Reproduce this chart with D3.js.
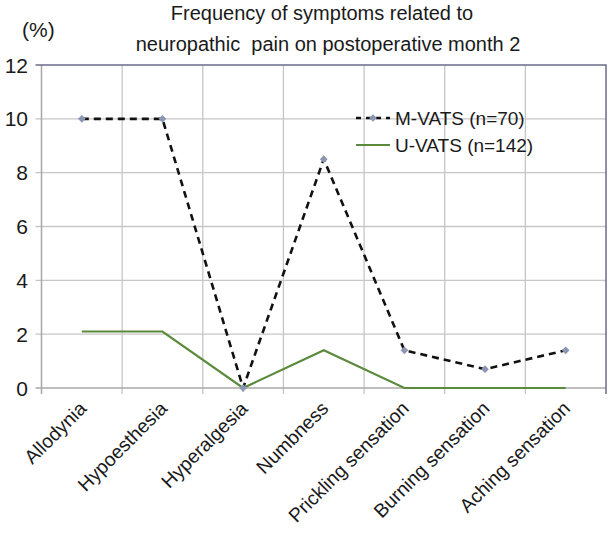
<!DOCTYPE html>
<html><head><meta charset="utf-8">
<script src="https://cdn.jsdelivr.net/npm/d3@7"></script>
<style>body{margin:0;background:#fff}svg{display:block}text{font-family:"Liberation Sans",Arial,sans-serif;fill:#1a1a1a}</style>
</head><body>
<svg id="c" width="608" height="533"></svg>
<script>
const categories = ["Allodynia","Hypoesthesia","Hyperalgesia","Numbness","Prickling sensation","Burning sensation","Aching sensation"];
const mvats = [10, 10, 0, 8.5, 1.4, 0.7, 1.4];
const uvats = [2.1, 2.1, 0, 1.4, 0, 0, 0];
const yTicks = [0, 2, 4, 6, 8, 10, 12];
const seriesNames = ["M-VATS (n=70)", "U-VATS (n=142)"];
const titleLines = ["Frequency of symptoms related to", "neuropathic\u00a0 pain on postoperative month 2"];

const svg = d3.select("#c");
const L = 41.5, R = 606, T = 65, B = 388;
const x = d3.scaleBand().domain(categories).range([L, R]);
const y = d3.scaleLinear().domain([0, 12]).range([B, T]);
const cx = d => x(d) + x.bandwidth() / 2;

// horizontal gridlines with left tick stubs
svg.append("g").selectAll("line").data(yTicks.filter(v => v > 0 && v < 12)).join("line")
  .attr("x1", L - 6).attr("x2", R).attr("y1", d => y(d)).attr("y2", d => y(d))
  .attr("stroke", "#c6c6c6").attr("stroke-width", 1.3);
// vertical gridlines with bottom tick stubs
const bounds = categories.map(c => x(c)).concat([R]);
svg.append("g").selectAll("line").data(bounds.slice(1, -1)).join("line")
  .attr("x1", d => d).attr("x2", d => d).attr("y1", T).attr("y2", B + 6)
  .attr("stroke", "#c6c6c6").attr("stroke-width", 1.3);
// left axis & bottom axis
svg.append("line").attr("x1", L).attr("x2", L).attr("y1", T).attr("y2", B + 6).attr("stroke", "#a8a8a8").attr("stroke-width", 1.5);
svg.append("line").attr("x1", L - 6).attr("x2", R).attr("y1", B).attr("y2", B).attr("stroke", "#a8a8a8").attr("stroke-width", 1.5);
// top & right border
svg.append("path").attr("d", `M${L - 6},${T}H${R}V${B + 6}`).attr("fill", "none").attr("stroke", "#6b6b8c").attr("stroke-width", 1.5);

// y tick labels
svg.append("g").selectAll("text").data(yTicks).join("text")
  .attr("x", 28).attr("y", d => y(d)).attr("dy", "0.36em").attr("text-anchor", "end")
  .attr("font-size", 21).text(d => d);

// x labels
svg.append("g").selectAll("text").data(categories).join("text")
  .attr("transform", d => `translate(${cx(d) + 1},${B + 17}) rotate(-45)`)
  .attr("text-anchor", "end").attr("dy", "0.35em").attr("font-size", 19.3).text(d => d);

// lines
const line = d3.line().x((d, i) => cx(categories[i])).y(d => y(d));
svg.append("path").datum(uvats).attr("d", line).attr("fill", "none").attr("stroke", "#5b8a3c").attr("stroke-width", 2.2);
svg.append("path").datum(mvats).attr("d", line).attr("fill", "none").attr("stroke", "#111").attr("stroke-width", 2.6).attr("stroke-dasharray", "7,5");
const diamond = d3.symbol().type(d3.symbolSquare).size(30);
svg.append("g").selectAll("path").data(mvats).join("path")
  .attr("transform", (d, i) => `translate(${cx(categories[i])},${y(d)}) rotate(45)`)
  .attr("d", diamond).attr("fill", "#8b97b2");

// legend
const lg = svg.append("g");
lg.append("line").attr("x1", 356).attr("x2", 390).attr("y1", 118).attr("y2", 118).attr("stroke", "#111").attr("stroke-width", 2.6).attr("stroke-dasharray", "5,5");
lg.append("path").attr("transform", "translate(373,118) rotate(45)").attr("d", diamond).attr("fill", "#8b97b2");
lg.append("line").attr("x1", 356).attr("x2", 390).attr("y1", 145).attr("y2", 145).attr("stroke", "#5b8a3c").attr("stroke-width", 2.2);
lg.selectAll("text").data(seriesNames).join("text")
  .attr("x", 395).attr("y", (d, i) => 118 + i * 27).attr("dy", "0.36em").attr("font-size", 19).text(d => d);

// title
svg.append("g").selectAll("text").data(titleLines).join("text")
  .attr("x", (d, i) => i ? 328 : 322).attr("y", (d, i) => 20 + i * 31).attr("text-anchor", "middle").attr("font-size", 20).text(d => d);
svg.append("text").attr("x", 22).attr("y", 37).attr("font-size", 21).text("(%)");
</script>
</body></html>
